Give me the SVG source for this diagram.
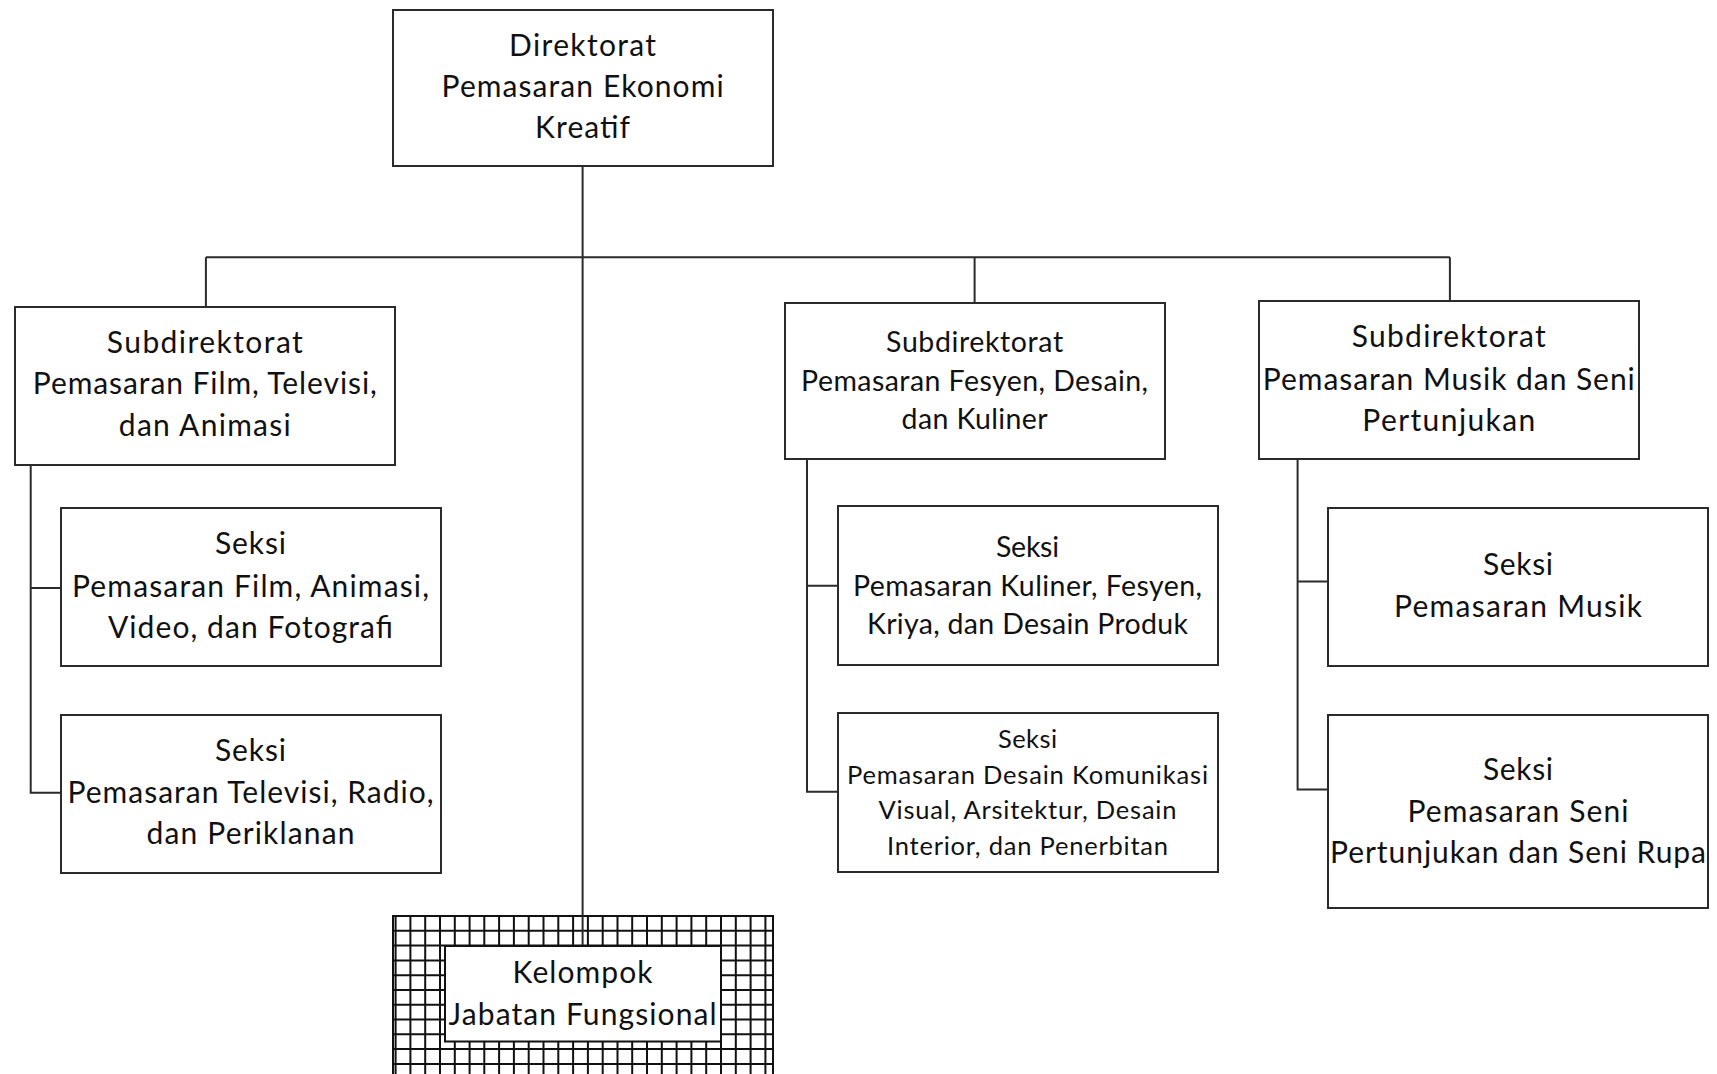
<svg xmlns="http://www.w3.org/2000/svg" width="1717" height="1074" viewBox="0 0 1717 1074">
<style>
.box{fill:#fff;stroke:#2b2b2b;stroke-width:2}
.conn{fill:none;stroke:#2b2b2b;stroke-width:2}
.grid{fill:none;stroke:#111;stroke-width:2}
text{font-family:Lato,"Open Sans","Liberation Sans",sans-serif;fill:#111;text-anchor:middle}
.b{font-size:30px}
.m{font-size:28.5px}
.s{font-size:25.5px}
</style>
<rect width="1717" height="1074" fill="#fff"/>
<g id="connectors">
<path class="conn" d="M582.6 166V946M205.9 257.3H1449.9M205.9 257.3V307M974.6 257.3V303M1449.9 257.3V301"/>
<path class="conn" d="M30.7 465V792.8H61M30.7 588H61"/>
<path class="conn" d="M807 459V791.7H838M807 585.8H838"/>
<path class="conn" d="M1297.6 459V789.5H1328M1297.6 581.5H1328"/>
</g>
<g id="direktorat">
<rect class="box" x="393" y="10" width="380" height="156"/>
<text class="b" x="582.6" y="56" textLength="147" lengthAdjust="spacing">Direktorat</text>
<text class="b" x="582.6" y="97" textLength="282" lengthAdjust="spacing">Pemasaran Ekonomi</text>
<text class="b" x="582.6" y="138" textLength="95" lengthAdjust="spacing">Kreatif</text>
</g>
<g id="subdit-film">
<rect class="box" x="15" y="307" width="380" height="158"/>
<text class="b" x="204.8" y="352.7" textLength="196" lengthAdjust="spacing">Subdirektorat</text>
<text class="b" x="204.8" y="394.4" textLength="344" lengthAdjust="spacing">Pemasaran Film, Televisi,</text>
<text class="b" x="204.8" y="436" textLength="172" lengthAdjust="spacing">dan Animasi</text>
</g>
<g id="subdit-fesyen">
<rect class="box" x="785" y="303" width="380" height="156"/>
<text class="m" x="974.6" y="351.7" textLength="177" lengthAdjust="spacing">Subdirektorat</text>
<text class="m" x="974.6" y="390.8" textLength="347" lengthAdjust="spacing">Pemasaran Fesyen, Desain,</text>
<text class="m" x="974.6" y="429.4" textLength="146" lengthAdjust="spacing">dan Kuliner</text>
</g>
<g id="subdit-musik">
<rect class="box" x="1259" y="301" width="380" height="158"/>
<text class="b" x="1448.8" y="347.3" textLength="194" lengthAdjust="spacing">Subdirektorat</text>
<text class="b" x="1448.8" y="390" textLength="372" lengthAdjust="spacing">Pemasaran Musik dan Seni</text>
<text class="b" x="1448.8" y="430.5" textLength="173" lengthAdjust="spacing">Pertunjukan</text>
</g>
<g id="seksi-film">
<rect class="box" x="61" y="508" width="380" height="158"/>
<text class="b" x="250.5" y="554.2" textLength="71" lengthAdjust="spacing">Seksi</text>
<text class="b" x="250.5" y="596.9" textLength="357" lengthAdjust="spacing">Pemasaran Film, Animasi,</text>
<text class="b" x="250.5" y="637.5" textLength="285" lengthAdjust="spacing">Video, dan Fotografi</text>
</g>
<g id="seksi-televisi">
<rect class="box" x="61" y="715" width="380" height="158"/>
<text class="b" x="250.5" y="761.2" textLength="71" lengthAdjust="spacing">Seksi</text>
<text class="b" x="250.5" y="802.8" textLength="366" lengthAdjust="spacing">Pemasaran Televisi, Radio,</text>
<text class="b" x="250.5" y="844.4" textLength="208" lengthAdjust="spacing">dan Periklanan</text>
</g>
<g id="seksi-kuliner">
<rect class="box" x="838" y="506" width="380" height="159"/>
<text class="m" x="1027.5" y="557" textLength="63" lengthAdjust="spacing">Seksi</text>
<text class="m" x="1027.5" y="596.4" textLength="349" lengthAdjust="spacing">Pemasaran Kuliner, Fesyen,</text>
<text class="m" x="1027.5" y="633.7" textLength="321" lengthAdjust="spacing">Kriya, dan Desain Produk</text>
</g>
<g id="seksi-dkv">
<rect class="box" x="838" y="713" width="380" height="159"/>
<text class="s" x="1027.5" y="748" textLength="59" lengthAdjust="spacing">Seksi</text>
<text class="s" x="1027.5" y="783.7" textLength="361" lengthAdjust="spacing">Pemasaran Desain Komunikasi</text>
<text class="s" x="1027.5" y="818.7" textLength="298" lengthAdjust="spacing">Visual, Arsitektur, Desain</text>
<text class="s" x="1027.5" y="854.7" textLength="281" lengthAdjust="spacing">Interior, dan Penerbitan</text>
</g>
<g id="seksi-musik">
<rect class="box" x="1328" y="508" width="380" height="158"/>
<text class="b" x="1518" y="575" textLength="70" lengthAdjust="spacing">Seksi</text>
<text class="b" x="1518" y="616.6" textLength="248" lengthAdjust="spacing">Pemasaran Musik</text>
</g>
<g id="seksi-seni">
<rect class="box" x="1328" y="715" width="380" height="193"/>
<text class="b" x="1518" y="779.5" textLength="70" lengthAdjust="spacing">Seksi</text>
<text class="b" x="1518" y="821.8" textLength="221" lengthAdjust="spacing">Pemasaran Seni</text>
<text class="b" x="1518" y="862.8" textLength="376" lengthAdjust="spacing">Pertunjukan dan Seni Rupa</text>
</g>
<g id="kelompok">
<rect x="393" y="916" width="380" height="170" fill="#fff" stroke="#111" stroke-width="2"/>
<path class="grid" d="M395.6 916V1074M410.4 916V1074M425.2 916V1074M440 916V1074M454.8 916V1074M469.6 916V1074M484.3 916V1074M499.1 916V1074M513.9 916V1074M528.7 916V1074M543.5 916V1074M558.3 916V1074M573.1 916V1074M587.9 916V1074M602.7 916V1074M617.5 916V1074M632.2 916V1074M647 916V1074M661.8 916V1074M676.6 916V1074M691.4 916V1074M706.2 916V1074M721 916V1074M735.8 916V1074M750.6 916V1074M765.4 916V1074M393 930.8H773M393 945.6H773M393 960.4H773M393 975.2H773M393 990H773M393 1004.7H773M393 1019.5H773M393 1034.3H773M393 1049.1H773M393 1063.9H773"/>
<path class="conn" d="M582.6 916V946"/>
<rect x="445" y="946" width="276" height="95.5" fill="#fff" stroke="#111" stroke-width="2"/>
<text class="b" x="582.6" y="982.5" textLength="140" lengthAdjust="spacing">Kelompok</text>
<text class="b" x="582.6" y="1024.5" textLength="268" lengthAdjust="spacing">Jabatan Fungsional</text>
</g>
</svg>
